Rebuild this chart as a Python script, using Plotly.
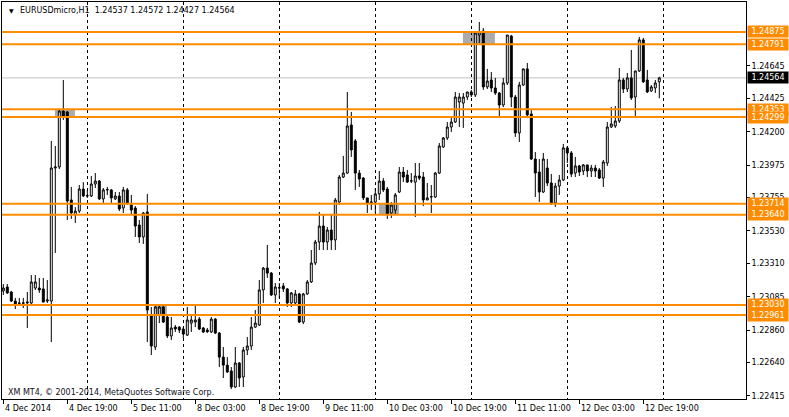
import plotly.graph_objects as go

# ---------------- data ----------------
chart_title = "EURUSDmicro,H1\u00a0\u00a01.24537 1.24572 1.24427 1.24564"
footer_text = "XM MT4, \u00a9 2001-2014, MetaQuotes Software Corp."

open_ = [
    1.23124, 1.23151, 1.23117, 1.23056, 1.23043, 1.23041, 1.23043, 1.23043, 1.23144, 1.23144,
    1.23138, 1.23056, 1.23056, 1.23955, 1.23962, 1.24340, 1.24334, 1.23739, 1.23637, 1.23664,
    1.23813, 1.23766, 1.23766, 1.23847, 1.23867, 1.23746, 1.23807, 1.23807, 1.23746, 1.23766,
    1.23685, 1.23807, 1.23705, 1.23685, 1.23570, 1.23489, 1.23658, 1.22961, 1.22745, 1.22961,
    1.23016, 1.22948, 1.22820, 1.22880, 1.22880, 1.22867, 1.22826, 1.22907, 1.22914, 1.22934,
    1.22874, 1.22860, 1.22847, 1.22934, 1.22840, 1.22677, 1.22623, 1.22583, 1.22475, 1.22637,
    1.22543, 1.22725, 1.22752, 1.22880, 1.22894, 1.23131, 1.23279, 1.23245, 1.23097, 1.23144,
    1.23158, 1.23138, 1.23043, 1.23043, 1.23104, 1.22914, 1.23104, 1.23185, 1.23313, 1.23455,
    1.23563, 1.23455, 1.23536, 1.23469, 1.23725, 1.23894, 1.23921, 1.24246, 1.24138, 1.23921,
    1.23887, 1.23753, 1.23719, 1.23725, 1.23780, 1.23867, 1.23813, 1.23651, 1.23671, 1.23793,
    1.23928, 1.23908, 1.23867, 1.23860, 1.23901, 1.23894, 1.23739, 1.23759, 1.23759, 1.23921,
    1.24097, 1.24158, 1.24232, 1.24266, 1.24401, 1.24394, 1.24435, 1.24469, 1.24449, 1.24854,
    1.24881, 1.24503, 1.24550, 1.24496, 1.24462, 1.24381, 1.24530, 1.24847, 1.24435, 1.24192,
    1.24516, 1.24625, 1.24320, 1.24016, 1.23928, 1.23793, 1.23955, 1.23854, 1.23719, 1.23833,
    1.23874, 1.24091, 1.24057, 1.23921, 1.23969, 1.23935, 1.23976, 1.23935, 1.23955, 1.23942,
    1.23887, 1.23989, 1.24232, 1.24239, 1.24273, 1.24550, 1.24489, 1.24564, 1.24435, 1.24611,
    1.24821, 1.24550, 1.24476, 1.24496, 1.24537,
]
high = [
    1.23171, 1.23171, 1.23124, 1.23077, 1.23077, 1.23077, 1.23117, 1.23232, 1.23232, 1.23212,
    1.23212, 1.23198, 1.24138, 1.24104, 1.24347, 1.24550, 1.24340, 1.23827, 1.23691, 1.23840,
    1.23860, 1.23807, 1.23901, 1.23921, 1.23874, 1.23820, 1.23827, 1.23813, 1.23793, 1.23793,
    1.23827, 1.23820, 1.23773, 1.23698, 1.23604, 1.23658, 1.23780, 1.23016, 1.23029, 1.23029,
    1.23029, 1.22955, 1.22948, 1.22894, 1.22887, 1.22880, 1.23016, 1.22961, 1.23023, 1.22948,
    1.22880, 1.22874, 1.22948, 1.22941, 1.22847, 1.22745, 1.22677, 1.22610, 1.22745, 1.22644,
    1.22745, 1.22813, 1.22948, 1.22995, 1.23198, 1.23286, 1.23435, 1.23252, 1.23178, 1.23178,
    1.23178, 1.23144, 1.23117, 1.23131, 1.23111, 1.23111, 1.23198, 1.23401, 1.23469, 1.23658,
    1.23637, 1.23556, 1.23637, 1.23753, 1.23908, 1.24037, 1.24469, 1.24334, 1.24151, 1.23942,
    1.23894, 1.23753, 1.23773, 1.23820, 1.23935, 1.23887, 1.23827, 1.23725, 1.23786, 1.23962,
    1.23962, 1.23942, 1.23921, 1.23989, 1.23989, 1.23928, 1.23854, 1.23840, 1.23928, 1.24124,
    1.24165, 1.24266, 1.24300, 1.24469, 1.24462, 1.24462, 1.24469, 1.24483, 1.24868, 1.24942,
    1.24901, 1.24625, 1.24604, 1.24564, 1.24469, 1.24564, 1.24854, 1.24854, 1.24449, 1.24537,
    1.24625, 1.24665, 1.24347, 1.24063, 1.24016, 1.24057, 1.24016, 1.23915, 1.23854, 1.23908,
    1.24118, 1.24104, 1.24070, 1.24030, 1.23976, 1.23982, 1.23976, 1.23976, 1.23976, 1.23955,
    1.24009, 1.24266, 1.24367, 1.24374, 1.24631, 1.24564, 1.24597, 1.24753, 1.24611, 1.24841,
    1.24834, 1.24618, 1.24516, 1.24550, 1.24572,
]
low = [
    1.23097, 1.23104, 1.23049, 1.23002, 1.23029, 1.23009, 1.22874, 1.23036, 1.23131, 1.23111,
    1.23049, 1.23043, 1.22779, 1.23381, 1.23948, 1.24280, 1.23604, 1.23611, 1.23584, 1.23651,
    1.23759, 1.23753, 1.23759, 1.23820, 1.23739, 1.23719, 1.23773, 1.23719, 1.23739, 1.23664,
    1.23651, 1.23705, 1.23637, 1.23489, 1.23448, 1.23442, 1.22779, 1.22691, 1.22725, 1.22907,
    1.22907, 1.22806, 1.22793, 1.22847, 1.22840, 1.22806, 1.22820, 1.22847, 1.22880, 1.22860,
    1.22840, 1.22840, 1.22840, 1.22833, 1.22610, 1.22536, 1.22570, 1.22461, 1.22468, 1.22475,
    1.22475, 1.22691, 1.22725, 1.22874, 1.22887, 1.23043, 1.23212, 1.23090, 1.23043, 1.23077,
    1.23117, 1.23016, 1.23016, 1.23029, 1.22907, 1.22900, 1.23097, 1.23178, 1.23299, 1.23401,
    1.23401, 1.23401, 1.23401, 1.23401, 1.23705, 1.23887, 1.23914, 1.24030, 1.23807, 1.23827,
    1.23739, 1.23651, 1.23671, 1.23651, 1.23739, 1.23793, 1.23611, 1.23617, 1.23637, 1.23786,
    1.23860, 1.23854, 1.23854, 1.23624, 1.23874, 1.23698, 1.23739, 1.23651, 1.23753, 1.23914,
    1.24091, 1.24145, 1.24199, 1.24260, 1.24232, 1.24226, 1.24415, 1.24435, 1.24435, 1.24800,
    1.24483, 1.24489, 1.24469, 1.24449, 1.24300, 1.24367, 1.24516, 1.24367, 1.24165, 1.24131,
    1.24510, 1.24300, 1.24009, 1.23759, 1.23726, 1.23786, 1.23833, 1.23705, 1.23692, 1.23773,
    1.23867, 1.23989, 1.23894, 1.23894, 1.23901, 1.23908, 1.23894, 1.23894, 1.23894, 1.23881,
    1.23827, 1.23969, 1.24226, 1.24226, 1.24260, 1.24462, 1.24469, 1.24415, 1.24307, 1.24604,
    1.24530, 1.24462, 1.24469, 1.24462, 1.24427,
]
close = [
    1.23144, 1.23111, 1.23056, 1.23036, 1.23041, 1.23043, 1.23049, 1.23185, 1.23185, 1.23131,
    1.23049, 1.23063, 1.23955, 1.23962, 1.24340, 1.24300, 1.23732, 1.23651, 1.23664, 1.23813,
    1.23766, 1.23768, 1.23847, 1.23867, 1.23746, 1.23807, 1.23809, 1.23753, 1.23766, 1.23678,
    1.23807, 1.23719, 1.23671, 1.23563, 1.23489, 1.23651, 1.22995, 1.22752, 1.23016, 1.23016,
    1.22914, 1.22820, 1.22874, 1.22867, 1.22860, 1.22833, 1.22928, 1.22928, 1.22928, 1.22867,
    1.22847, 1.22849, 1.22934, 1.22840, 1.22677, 1.22623, 1.22577, 1.22475, 1.22637, 1.22536,
    1.22725, 1.22752, 1.22880, 1.22907, 1.23131, 1.23279, 1.23245, 1.23097, 1.23151, 1.23146,
    1.23138, 1.23043, 1.23111, 1.23104, 1.22914, 1.23104, 1.23185, 1.23313, 1.23455, 1.23563,
    1.23455, 1.23536, 1.23469, 1.23739, 1.23894, 1.23921, 1.24239, 1.24077, 1.23921, 1.23881,
    1.23753, 1.23719, 1.23725, 1.23780, 1.23867, 1.23807, 1.23637, 1.23705, 1.23773, 1.23928,
    1.23894, 1.23860, 1.23869, 1.23901, 1.23887, 1.23739, 1.23753, 1.23761, 1.23921, 1.24104,
    1.24158, 1.24232, 1.24266, 1.24435, 1.24435, 1.24435, 1.24469, 1.24449, 1.24868, 1.24875,
    1.24503, 1.24543, 1.24496, 1.24462, 1.24381, 1.24530, 1.24854, 1.24435, 1.24192, 1.24516,
    1.24625, 1.24314, 1.24016, 1.23921, 1.23793, 1.24016, 1.23854, 1.23719, 1.23833, 1.23874,
    1.24091, 1.24057, 1.23914, 1.23969, 1.23928, 1.23976, 1.23935, 1.23955, 1.23935, 1.23887,
    1.23996, 1.24232, 1.24253, 1.24273, 1.24550, 1.24489, 1.24564, 1.24428, 1.24611, 1.24821,
    1.24537, 1.24469, 1.24503, 1.24530, 1.24564,
]
bars = list(range(len(open_)))

label_bars = [0, 16, 32, 48, 64, 80, 96, 112, 128, 144, 160]
time_labels = ["4 Dec 2014", "4 Dec 19:00", "5 Dec 11:00", "8 Dec 03:00", "8 Dec 19:00",
               "9 Dec 11:00", "10 Dec 03:00", "10 Dec 19:00", "11 Dec 11:00",
               "12 Dec 03:00", "12 Dec 19:00"]
day_breaks = [21, 45, 69, 93, 117, 141, 165]

price_ticks = [1.24645, 1.24425, 1.24200, 1.23975, 1.23755, 1.23530,
               1.23310, 1.23085, 1.22860, 1.22640, 1.22415]
level_prices = [1.24875, 1.24791, 1.24353, 1.24299, 1.23714, 1.23640, 1.23030, 1.22961]
bid_price = 1.24564

zone_start = [12.9, 114.9, 93.9, 37.9]
zone_end = [17.9, 122.9, 98.9, 40.9]
zone_top = [1.24353, 1.24875, 1.23714, 1.23030]
zone_bottom = [1.24299, 1.24791, 1.23640, 1.22961]

# ---------------- style ----------------
FONT = "DejaVu Sans"
ORANGE = "#FF8C00"

fig = go.Figure()
fig.add_trace(go.Candlestick(
    x=bars, open=open_, high=high, low=low, close=close,
    increasing=dict(line=dict(color="black", width=1), fillcolor="white"),
    decreasing=dict(line=dict(color="black", width=1), fillcolor="black"),
    whiskerwidth=0, showlegend=False, hoverinfo="skip",
))

shapes = []
for x0, x1, y0, y1 in zip(zone_start, zone_end, zone_top, zone_bottom):
    shapes.append(dict(type="rect", xref="x", yref="y", x0=x0, x1=x1, y0=y0, y1=y1,
                       fillcolor="#ABABAB", line=dict(width=0), layer="below"))
shapes.append(dict(type="line", xref="paper", yref="y", x0=0, x1=1, y0=bid_price, y1=bid_price,
                   line=dict(color="#C0C0C0", width=1), layer="below"))
for p in level_prices:
    shapes.append(dict(type="line", xref="paper", yref="y", x0=0, x1=1, y0=p, y1=p,
                       line=dict(color=ORANGE, width=2), layer="above"))

annotations = []
for b, t in zip(label_bars, time_labels):
    annotations.append(dict(x=b, xref="x", y=0, yref="paper", xanchor="left", yanchor="top",
                            xshift=0, yshift=-3, text=t, showarrow=False,
                            font=dict(family=FONT, size=8, color="black")))
for p in level_prices:
    annotations.append(dict(x=1, xref="paper", y=p, yref="y", xanchor="left", yanchor="middle",
                            xshift=1, text=f"{p:.5f}", showarrow=False, bgcolor=ORANGE,
                            borderpad=1, width=38, align="center",
                            font=dict(family=FONT, size=8, color="white")))
annotations.append(dict(x=1, xref="paper", y=bid_price, yref="y", xanchor="left", yanchor="middle",
                        xshift=1, text=f"{bid_price:.5f}", showarrow=False, bgcolor="black",
                        borderpad=1, width=38, align="center",
                        font=dict(family=FONT, size=8, color="white")))
annotations.append(dict(x=0, xref="paper", y=1, yref="paper", xanchor="left", yanchor="middle",
                        xshift=16, yshift=-8, text=chart_title, showarrow=False,
                        font=dict(family=FONT, size=8, color="black")))
annotations.append(dict(x=0, xref="paper", y=1, yref="paper", xanchor="left", yanchor="middle",
                        xshift=5, yshift=-8, text="\u25bc", showarrow=False,
                        font=dict(family=FONT, size=6, color="black")))
annotations.append(dict(x=0, xref="paper", y=0, yref="paper", xanchor="left", yanchor="middle",
                        xshift=4, yshift=7, text=footer_text, showarrow=False,
                        font=dict(family=FONT, size=8, color="#101020")))

fig.update_layout(
    width=789, height=417,
    margin=dict(l=2, r=43, t=2, b=18, autoexpand=False),
    paper_bgcolor="white", plot_bgcolor="white",
    font=dict(family=FONT, size=8, color="black"),
    shapes=shapes, annotations=annotations,
    showlegend=False,
    xaxis=dict(
        range=[-0.325, 185.675], rangeslider=dict(visible=False),
        showgrid=False, zeroline=False, automargin=False,
        tickmode="array", tickvals=label_bars, ticktext=[""] * len(label_bars),
        ticks="outside", ticklen=4, tickcolor="black", tickwidth=1,
        showline=True, linecolor="black", linewidth=1, mirror=True,
        minor=dict(tickmode="array", tickvals=day_breaks, showgrid=True, gridcolor="black",
                   griddash="3px,3px", gridwidth=1, ticks=""),
    ),
    yaxis=dict(
        range=[1.22394, 1.25077], side="right", automargin=False,
        tickmode="array", tickvals=price_ticks, ticktext=[f"{v:.5f}" for v in price_ticks],
        ticks="outside", ticklen=3, tickcolor="black",
        showgrid=False, zeroline=False,
        showline=True, linecolor="black", linewidth=1, mirror=True,
        tickfont=dict(family=FONT, size=8, color="black"),
    ),
)

fig.write_html(
    "out.html",
    config={"displayModeBar": False, "staticPlot": True},
    post_script="document.body.style.margin='0';document.body.style.overflow='hidden';",
)
